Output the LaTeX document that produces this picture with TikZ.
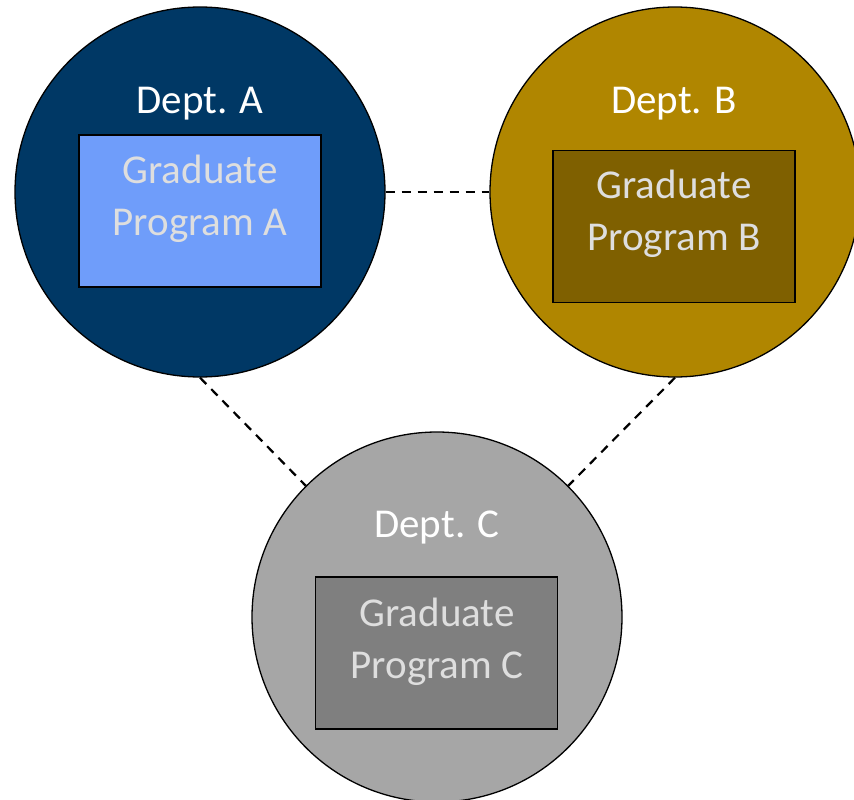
\documentclass[tikz,border=0pt]{standalone}
\usepackage{fontspec}
\setmainfont{Carlito}
\definecolor{deptA}{RGB}{0,56,101}
\definecolor{progA}{RGB}{111,157,250}
\definecolor{deptB}{RGB}{176,134,0}
\definecolor{progB}{RGB}{127,96,0}
\definecolor{deptC}{RGB}{166,166,166}
\definecolor{progC}{RGB}{127,127,127}
\definecolor{progtext}{RGB}{222,222,222}
\tikzset{
  dept/.style={circle, draw=black, line width=1.3pt, minimum size=370pt, inner sep=0pt},
  prog/.style={rectangle, draw=black, line width=1.8pt, minimum width=242pt, minimum height=152pt, inner sep=0pt},
  deptlabel/.style={text=white, font=\fontsize{41}{52}\selectfont, anchor=base, inner sep=0pt},
  proglabel/.style={text=progtext, font=\fontsize{41}{52}\selectfont, align=center, anchor=base, inner sep=0pt},
  link/.style={draw=black, line width=2.2pt, dash pattern=on 9pt off 7pt}
}
\begin{document}
\begin{tikzpicture}[x=1pt,y=-1pt]
\useasboundingbox (0,0) rectangle (854,800);
\clip (0,0) rectangle (854,800);
\node[dept, fill=deptA] (A) at (200,192) {};
\node[dept, fill=deptB] (B) at (675,192) {};
\node[dept, fill=deptC] (C) at (437,617) {};
\node[prog, fill=progA] (PA) at (200,211) {};
\node[prog, fill=progB] (PB) at (674,226.5) {};
\node[prog, fill=progC] (PC) at (436.5,653) {};
\node[deptlabel] (LA) at (200,113) {Dept. A};
\node[deptlabel] (LB) at (674,113) {Dept. B};
\node[deptlabel] (LC) at (437,537) {Dept. C};
\node[proglabel] (TA) at (200,235) {Graduate\\Program A};
\node[proglabel] (TB) at (674,250) {Graduate\\Program B};
\node[proglabel] (TC) at (437,678) {Graduate\\Program C};
\draw[link] (A.east) -- (B.west);
\draw[link] (A.south) -- (C.135);
\draw[link] (B.south) -- (C.45);
\end{tikzpicture}
\end{document}
